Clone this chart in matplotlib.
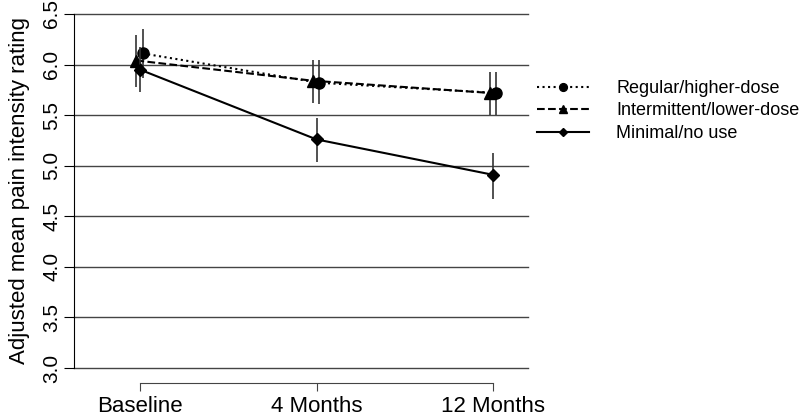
import matplotlib.pyplot as plt
import numpy as np

plt.rcParams["font.family"] = ["Liberation Sans", "DejaVu Sans"]

# data
timepoints = ["Baseline", "4 Months", "12 Months"]
groups = ["Regular/higher-dose", "Intermittent/lower-dose", "Minimal/no use"]

regular_mean = [6.11, 5.82, 5.72]
regular_lo = [5.87, 5.61, 5.50]
regular_hi = [6.35, 6.05, 5.93]

intermittent_mean = [6.04, 5.84, 5.72]
intermittent_lo = [5.78, 5.62, 5.50]
intermittent_hi = [6.29, 6.05, 5.93]

minimal_mean = [5.95, 5.26, 4.91]
minimal_lo = [5.73, 5.04, 4.67]
minimal_hi = [6.17, 5.47, 5.13]

offsets = [0.015, -0.02, 0.0]
styles = [":", "--", "-"]
markers = ["o", "^", "D"]
msizes = [8, 8, 6]

fig = plt.figure(figsize=(8, 4.16), dpi=100)
ax = fig.add_axes([74 / 800, 1 - 368 / 416, 454 / 800, 354 / 416])

x = np.arange(len(timepoints))
series = [
    (regular_mean, regular_lo, regular_hi),
    (intermittent_mean, intermittent_lo, intermittent_hi),
    (minimal_mean, minimal_lo, minimal_hi),
]

for (m, lo, hi), name, ls, mk, ms, off in zip(series, groups, styles, markers, msizes, offsets):
    m = np.array(m)
    err = [m - np.array(lo), np.array(hi) - m]
    ax.errorbar(x + off, m, yerr=err, fmt="none", ecolor="#333333", elinewidth=1.2, capsize=0)
    ax.plot(x + off, m, linestyle=ls, marker=mk, markersize=ms, color="black",
            linewidth=1.5, label=name)

ax.set_ylim(3.0, 6.5)
ax.set_xlim(-0.374, 2.198)
yt = np.arange(3.0, 6.51, 0.5)
ax.set_yticks(yt)
ax.set_yticklabels([f"{v:.1f}" for v in yt], rotation=90, va="center")
for v in yt:
    ax.axhline(v, color="#444444", linewidth=1.0, zorder=0, clip_on=False)

ax.set_xticks(x)
ax.set_xticklabels(timepoints)
ax.spines["top"].set_visible(False)
ax.spines["right"].set_visible(False)
ax.spines["bottom"].set_position(("outward", 11))
ax.spines["bottom"].set_bounds(0, 2)
ax.spines["bottom"].set_color("#444444")
ax.tick_params(axis="x", length=6, labelsize=16, color="#444444", pad=3)
ax.tick_params(axis="y", length=7, labelsize=15, pad=2)

ax.set_ylabel("Adjusted mean pain intensity rating", fontsize=16, labelpad=9)

ax.legend(loc="upper left", bbox_to_anchor=(537 / 800, 1 - 80 / 416),
          bbox_transform=fig.transFigure, frameon=False, fontsize=13,
          borderpad=0, borderaxespad=0,
          handlelength=2.9, handletextpad=1.5, labelspacing=0.3, markerscale=0.7)

plt.savefig("out.png", dpi=100)
plt.close()
